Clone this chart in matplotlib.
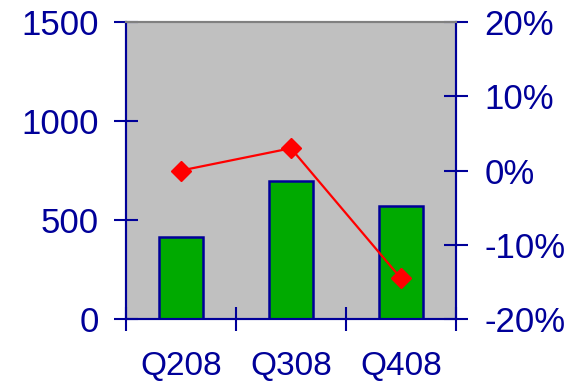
import matplotlib.pyplot as plt
import numpy as np

# quarterly volume (bars) and growth rate (line, right axis)
quarters = ['Q208', 'Q308', 'Q408']
volume = [415, 695, 570]
growth = [0.0, 3.0, -14.5]

navy = '#000099'
plt.rcParams['font.family'] = ['Liberation Sans', 'DejaVu Sans']

fig = plt.figure(figsize=(5.83, 3.85), dpi=100)
ax = fig.add_axes([0.216, 0.171, 0.566, 0.772])
ax.set_facecolor('#C0C0C0')

x = np.arange(len(quarters))
ax.bar(x, volume, width=0.4, color='#00AA00', edgecolor=navy, linewidth=1.8, zorder=2)
ax.set_xlim(-0.5, len(quarters) - 0.5)
ax.set_ylim(0, 1500)
ax.set_yticks([0, 500, 1000, 1500])

# category ticks sit between the groups, labels centred under each bar
ax.set_xticks(np.arange(-0.5, len(quarters), 1.0))
ax.set_xticklabels([])
ax.set_xticks(x, minor=True)
ax.set_xticklabels(quarters, minor=True)
ax.tick_params(axis='x', which='minor', length=0, pad=23, labelsize=24, labelcolor=navy)
ax.tick_params(axis='x', which='major', direction='inout', length=17, width=1.5, color=navy)
ax.tick_params(axis='y', direction='inout', length=17, width=1.5, color=navy,
               labelsize=25, labelcolor=navy, pad=11)

for side in ['left', 'bottom', 'right']:
    ax.spines[side].set_color(navy)
    ax.spines[side].set_linewidth(1.5)
ax.spines['top'].set_color('#808080')
ax.spines['top'].set_linewidth(1.5)

ax2 = ax.twinx()
ax2.plot(x, growth, color='#FF0000', linewidth=1.6, marker='D', markersize=10, zorder=3)
ax2.set_ylim(-20, 20)
ax2.set_yticks([-20, -10, 0, 10, 20])
ax2.set_yticklabels([f'{v}%' for v in [-20, -10, 0, 10, 20]])
ax2.tick_params(axis='y', direction='inout', length=17, width=1.5, color=navy,
                labelsize=25, labelcolor=navy, pad=12)
for side in ['left', 'bottom', 'right']:
    ax2.spines[side].set_color(navy)
    ax2.spines[side].set_linewidth(1.5)
ax2.spines['top'].set_color('#808080')
ax2.spines['top'].set_linewidth(1.5)

fig.savefig('out.png', dpi=100)
